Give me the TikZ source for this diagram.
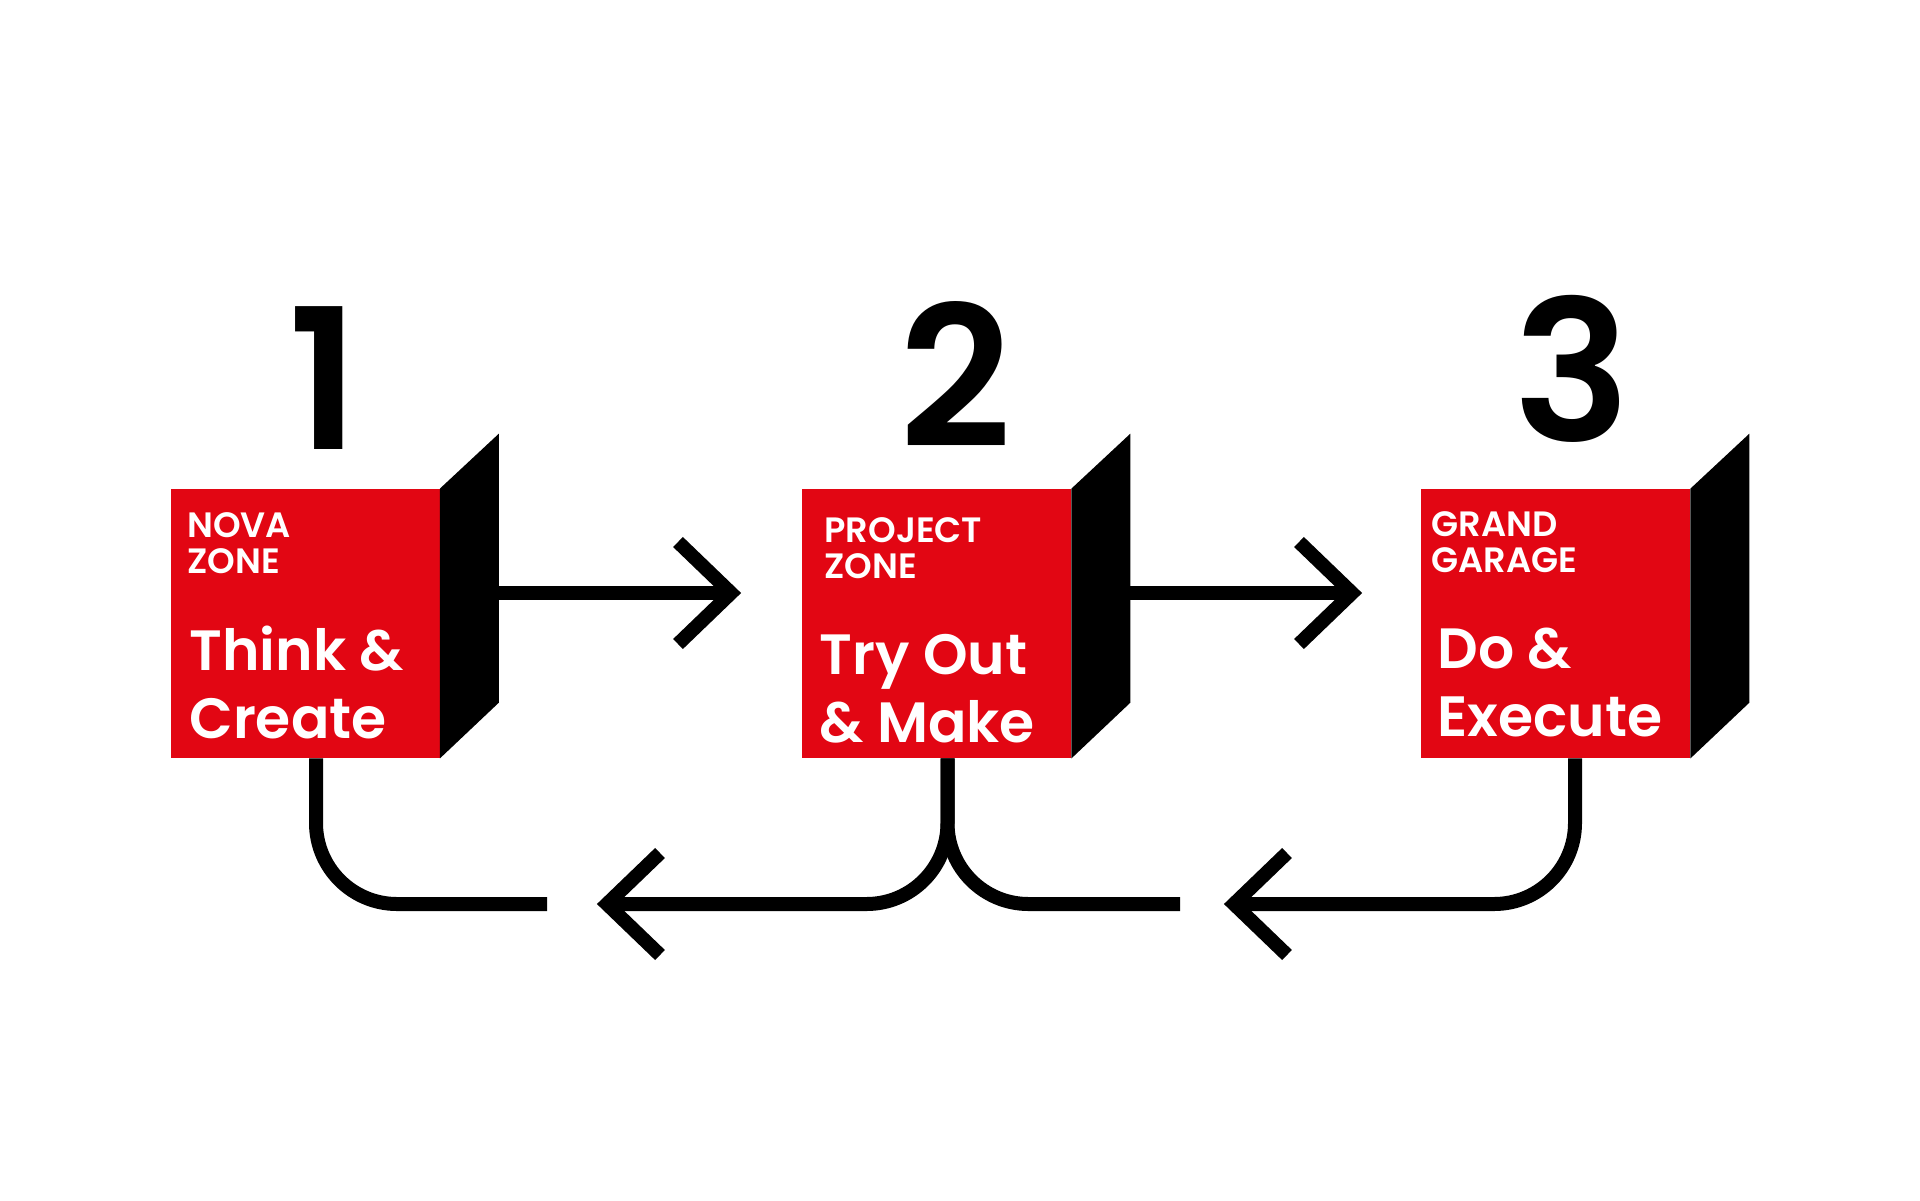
\documentclass[tikz,border=0pt]{standalone}
\usepackage{fontspec}
\setmainfont{Poppins}
\newfontfamily\zonefont{Poppins SemiBold}
\newfontfamily\numfont{Poppins SemiBold}
\usepackage{xcolor}
\usepackage{tikz}
\usetikzlibrary{calc}
\definecolor{zonered}{HTML}{E20613}

\begin{document}
\begin{tikzpicture}[x=0.5pt,y=-0.5pt,
        zone/.style={fill=zonered,minimum width=134.5pt,minimum height=134.5pt},
        flow/.style={line width=7pt,line join=miter},
        num/.style={font=\numfont\fontsize{98}{98}\selectfont,anchor=base},
        small/.style={font=\zonefont\fontsize{17.6}{18}\selectfont,text=white,align=left,anchor=base west},
        big/.style={font=\zonefont\fontsize{28.4}{33.75}\selectfont,text=white,align=left,anchor=base west}]
                \tikzstyle{every node}+=[inner sep=0pt]
                \useasboundingbox (0,0) rectangle (1920,1200);
                % the three zones
                \node [zone] (nova) at (305,623.5) {};
                \node [zone] (project) at (936.5,623.5) {};
                \node [zone] (grand) at (1555.5,623.5) {};
                \fill [black] (nova.north east) -- ++(59,-55) -- ++(0,269) -- (nova.south east) -- cycle;
                \fill [black] (project.north east) -- ++(59,-55) -- ++(0,269) -- (project.south east) -- cycle;
                \fill [black] (grand.north east) -- ++(59,-55) -- ++(0,269) -- (grand.south east) -- cycle;
                \node [num] (one) at (324,449) {1};
                \node [num] (two) at (956,447) {2};
                \node [num] (three) at (1572,441) {3};
                % names and tasks (placed at the last line)
                \node [small] (nova-name) at (187,573) {NOVA\\ZONE};
                \node [big] (nova-task) at (189,738) {Think \&\\Create};
                \node [small] (project-name) at (824,578) {PROJECT\\ZONE};
                \node [big] (project-task) at (819,742) {Try Out\\\& Make};
                \node [small] (grand-name) at (1431,572) {GRAND\\GARAGE};
                \node [big] (grand-task) at (1437,736) {Do \&\\Execute};
                % arrow ends
                \coordinate (nova-back) at ($(nova.east)+(59,-30.5)$);
                \coordinate (project-back) at ($(project.east)+(59,-30.5)$);
                \coordinate (tip-a) at (731,593);
                \coordinate (tip-b) at (1352,593);
                \coordinate (tip-c) at (607,904);
                \coordinate (tip-d) at (1234,904);
                \coordinate (end-a) at (547,904);
                \coordinate (end-b) at (1180,904);
                % forward
                \draw [flow] (nova-back) -- (tip-a);
                \draw [flow] ($(tip-a)+(-53,-51)$) -- (tip-a) -- ++(-53,51);
                \draw [flow] (project-back) -- (tip-b);
                \draw [flow] ($(tip-b)+(-53,-51)$) -- (tip-b) -- ++(-53,51);
                % back
                \draw [flow,rounded corners=40.5pt] ([xshift=5.5pt]nova.south) -- ([xshift=5.5pt]nova.south |- end-a) -- (end-a);
                \draw [flow,rounded corners=40.5pt] ([xshift=5.5pt]project.south) -- ([xshift=5.5pt]project.south |- tip-c) -- (tip-c);
                \draw [flow] ($(tip-c)+(53,-51)$) -- (tip-c) -- ++(53,51);
                \draw [flow,rounded corners=40.5pt] ([xshift=5.5pt]project.south) -- ([xshift=5.5pt]project.south |- end-b) -- (end-b);
                \draw [flow,rounded corners=40.5pt] ([xshift=9.75pt]grand.south) -- ([xshift=9.75pt]grand.south |- tip-d) -- (tip-d);
                \draw [flow] ($(tip-d)+(53,-51)$) -- (tip-d) -- ++(53,51);
\end{tikzpicture}
\end{document}
